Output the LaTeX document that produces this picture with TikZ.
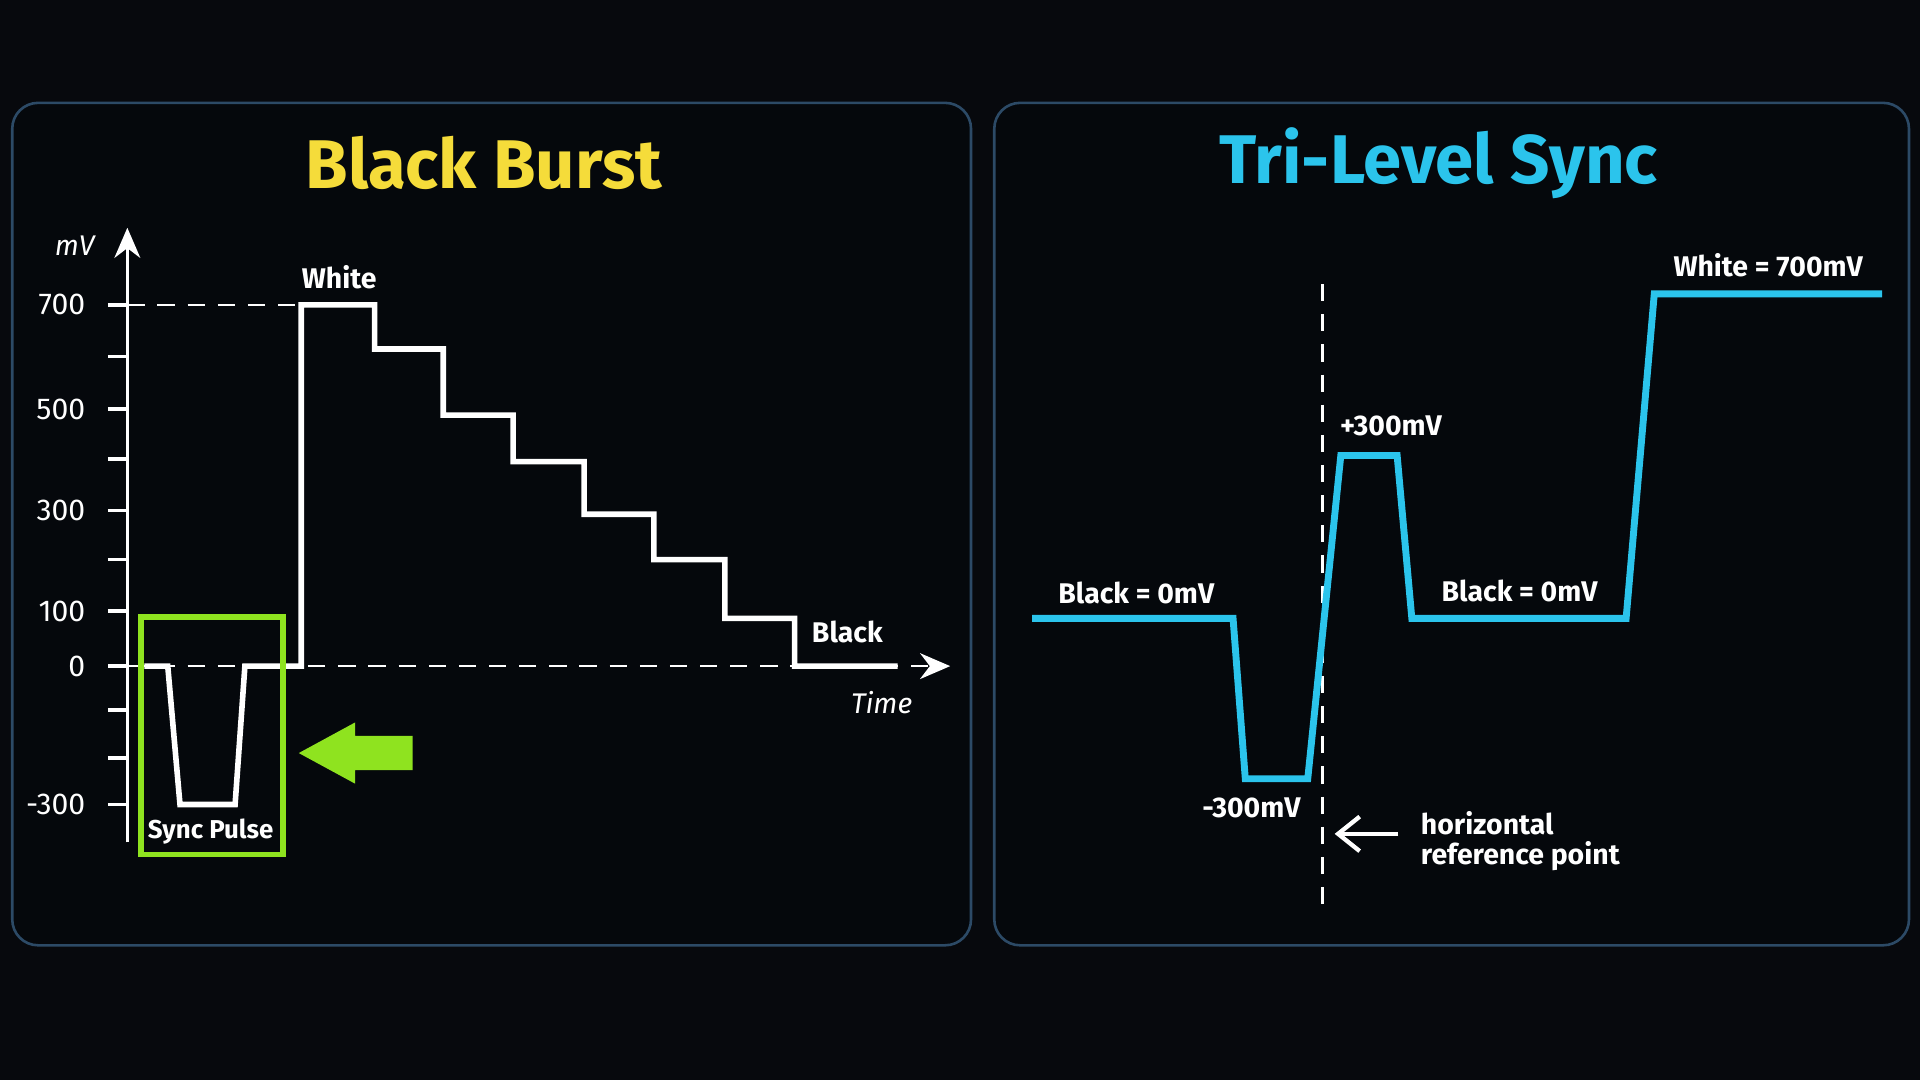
\documentclass[tikz,border=0pt]{standalone}
\usepackage{fontspec}
\setmainfont{Fira Sans}
\usetikzlibrary{arrows.meta}
\definecolor{bg}{HTML}{07090D}
\definecolor{panel}{HTML}{05080C}
\definecolor{pborder}{HTML}{2C4A66}
\definecolor{ttlY}{HTML}{F5DC3A}
\definecolor{ttlC}{HTML}{2BC4EC}
\definecolor{grn}{HTML}{8FE31F}
\begin{document}
\begin{tikzpicture}[x=0.01cm,y=-0.01cm,
  pan/.style={draw=pborder,line width=0.6pt,fill=panel,rounded corners=6pt},
  ttl/.style={font=\fontsize{16}{18}\selectfont\bfseries},
  lbl/.style={text=white,font=\fontsize{6.6}{8}\selectfont\bfseries},
  ax/.style={white,line width=0.8pt},
  dsh/.style={white,line width=0.6pt,dash pattern=on 4pt off 3pt},
  wave/.style={white,line width=1.3pt},
  cwave/.style={ttlC,line width=1.6pt}]
\fill[bg] (0,0) rectangle (1568,882);
\useasboundingbox (0,0) rectangle (1568,882);
\draw[pan] (10,84) rectangle (793,772);
\draw[pan] (812,84) rectangle (1559,772);
\node[ttl,text=ttlY] (t1) at (395,133) {Black Burst};
\node[ttl,text=ttlC] (t2) at (1175,133) {Tri-Level Sync};
% left axes
\coordinate (ya0) at (104,688); \coordinate (ya1) at (104,186);
\draw[ax,-{Stealth[length=7pt,width=6pt]}] (ya0) -- (ya1);
\node[lbl,font=\fontsize{6.6}{8}\selectfont\itshape] (mv) at (61,201) {mV};
\foreach \y/\t in {249/700,334/500,417/300,499/100,544/0,657/-300}{
  \draw[ax] (88,\y) -- (104,\y);
  \node[lbl,anchor=east,font=\fontsize{7}{8}\selectfont] at (82,\y) {\t};}
\foreach \y in {291,375,457,580,619}{\draw[ax] (88,\y) -- (104,\y);}
\coordinate (d7a) at (104,249); \coordinate (d7b) at (247,249);
\draw[dsh] (d7a) -- (d7b);
\coordinate (x0) at (104,544); \coordinate (x1) at (776,544);
\draw[dsh,-{Stealth[length=7pt,width=6pt]}] (x0) -- (x1);
\node[lbl,font=\fontsize{6.6}{8}\selectfont\itshape] (time) at (720,574) {Time};
\draw[wave,line join=miter] (118,544) -- (137,544) -- (147,657) -- (192,657) -- (200,544) -- (246,544) -- (246,249) -- (306,249) -- (306,285) -- (362,285) -- (362,339) -- (419,339) -- (419,377) -- (477,377) -- (477,420) -- (534,420) -- (534,457) -- (592,457) -- (592,505) -- (649,505) -- (649,544) -- (733,544);
\node[lbl] (white) at (277,226) {White};
\node[lbl] (black) at (692,516) {Black};
\draw[grn,line width=1.3pt] (115,504) rectangle (231,698);
\node[lbl,font=\fontsize{6}{7}\selectfont\bfseries] (sp) at (172,679) {Sync Pulse};
\fill[grn] (244,615) -- (290,590) -- (290,601) -- (337,601) -- (337,629) -- (290,629) -- (290,640) -- cycle;
% right
\coordinate (r0) at (1080,232); \coordinate (r1) at (1080,748);
\draw[dsh] (r0) -- (r1);
\draw[cwave,line join=miter] (843,505) -- (1007,505) -- (1017,636) -- (1068,636) -- (1095,372) -- (1141,372) -- (1153,505) -- (1328,505) -- (1351,240) -- (1537,240);
\node[lbl] (b1) at (928,484) {Black = 0mV};
\node[lbl] (p3) at (1136,348) {+300mV};
\node[lbl] (b2) at (1241,483) {Black = 0mV};
\node[lbl] (w7) at (1444,217) {White = 700mV};
\node[lbl] (m3) at (1022,660) {-300mV};
\node[lbl,anchor=west,align=left] (hr) at (1148,687) {horizontal\\[-1pt]reference point};
\draw[white,line width=1pt,-{Straight Barb[length=5pt,width=8pt]}] (hr.west) ++(-6,-6) coordinate (ha) -- (1090,681);
\end{tikzpicture}
\end{document}
